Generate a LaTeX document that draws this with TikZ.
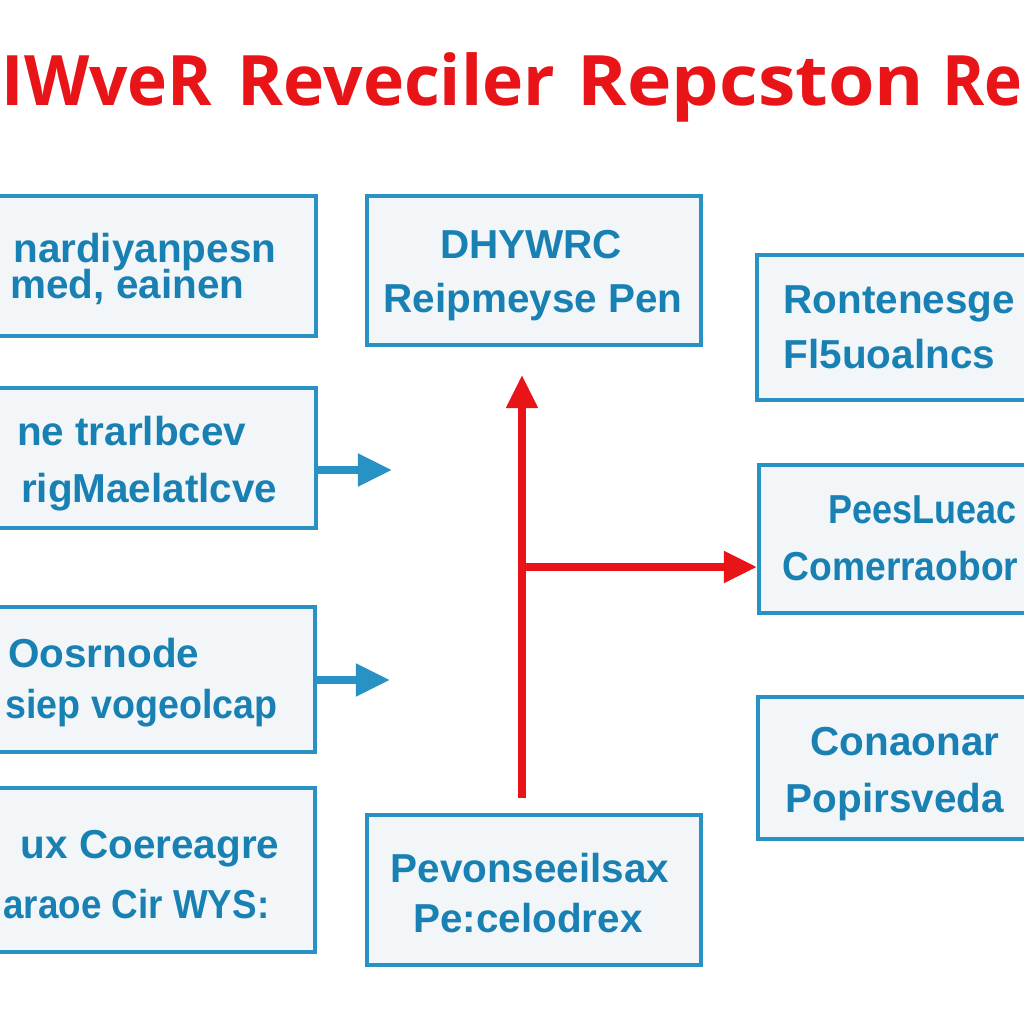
\documentclass[tikz,border=0pt]{standalone}
\usepackage{fontspec}
\setmainfont{Liberation Sans}
\newfontfamily\titlefont{Open Sans}
\usetikzlibrary{arrows.meta,calc}
\definecolor{boxblue}{RGB}{40,146,196}
\definecolor{txtblue}{RGB}{24,128,178}
\definecolor{boxfill}{RGB}{242,246,248}
\definecolor{redc}{RGB}{232,20,24}
\begin{document}
\begin{tikzpicture}[x=0.01cm,y=-0.01cm,
  box/.style={draw=boxblue,fill=boxfill,line width=1.1pt,inner sep=0pt},
  txt/.style={text=txtblue,font=\bfseries\fontsize{11.5}{13}\selectfont,inner sep=0pt},
  ltxt/.style={txt,anchor=base east},
  ctxt/.style={txt,anchor=base},
  rtxt/.style={txt,anchor=base west},
  ttl/.style={anchor=base west,font=\titlefont\bfseries\fontsize{19.8}{20}\selectfont,text=redc,inner sep=0pt},
  redarr/.style={draw=redc,line width=2.2pt,-{Triangle[length=0.33cm,width=0.3cm]}},
  bluearr/.style={draw=boxblue,line width=2.2pt,-{Triangle[length=0.34cm,width=0.31cm]}}]
\useasboundingbox (0,0) rectangle (1024,1024);
\fill[white] (0,0) rectangle (1024,1024);
\clip (0,0) rectangle (1024,1024);
% title
\node[ttl,xscale=0.97] (t1) at (1,105) {IWveR};
\node[ttl] (t2) at (237,105) {Reveciler};
\node[ttl,xscale=1.08] (t3) at (577,105) {Repcston};
\node[ttl,xscale=0.92] (t4) at (942,105) {Re};
% boxes
\node[box,minimum width=3.46cm,minimum height=1.40cm] (l1) at (143,266) {};
\node[box,minimum width=3.46cm,minimum height=1.40cm] (l2) at (143,458) {};
\node[box,minimum width=3.45cm,minimum height=1.45cm] (l3) at (142.5,679.5) {};
\node[box,minimum width=3.45cm,minimum height=1.64cm] (l4) at (142.5,870) {};
\node[box,minimum width=3.34cm,minimum height=1.49cm] (mt) at (534,270.5) {};
\node[box,minimum width=3.34cm,minimum height=1.50cm] (mb) at (534,890) {};
\node[box,minimum width=3.03cm,minimum height=1.45cm] (r1) at (908.5,327.5) {};
\node[box,minimum width=3.01cm,minimum height=1.48cm] (r2) at (909.5,539) {};
\node[box,minimum width=3.02cm,minimum height=1.42cm] (r3) at (909,768) {};
% texts
\node[ltxt] (l1a) at (277,262) {nardiyanpesn};
\node[ltxt] (l1b) at (245,298) {med, eainen};
\node[ltxt] (l2a) at (247,445) {ne trarlbcev};
\node[ltxt] (l2b) at (278,502) {rigMaelatlcve};
\node[ltxt] (l3a) at (200,667) {Oosrnode};
\node[ltxt,xscale=0.93] (l3b) at (278,718) {siep vogeolcap};
\node[ltxt] (l4a) at (280,858) {ux Coereagre};
\node[ltxt,xscale=0.91] (l4b) at (270,918) {araoe Cir WYS:};
\node[ctxt] (mta) at (531,258) {DHYWRC};
\node[ctxt] (mtb) at (533,312) {Reipmeyse Pen};
\node[ctxt] (mba) at (530,882) {Pevonseeilsax};
\node[ctxt] (mbb) at (528,932) {Pe:celodrex};
\node[rtxt] (r1a) at (783,313) {Rontenesge};
\node[rtxt] (r1b) at (783,368) {Fl5uoalncs};
\node[rtxt,xscale=0.89] (r2a) at (828,523) {PeesLueac};
\node[rtxt,xscale=0.92] (r2b) at (782,580) {Comerraobor};
\node[rtxt] (r3a) at (810,755) {Conaonar};
\node[rtxt] (r3b) at (785,812) {Popirsveda};
% blue arrows
\coordinate (b1) at (392,470);
\coordinate (b2) at (390,680);
\draw[bluearr] (l2.east |- b1) -- (b1);
\draw[bluearr] (l3.east |- b2) -- (b2);
% red arrows
\coordinate (j) at (522,567);
\draw[redarr] ($(mb.north -| j)+(0,-15)$) -- ($(mt.south -| j)+(0,28)$);
\draw[redarr] (j) -- (j -| r2.west);
\end{tikzpicture}
\end{document}
